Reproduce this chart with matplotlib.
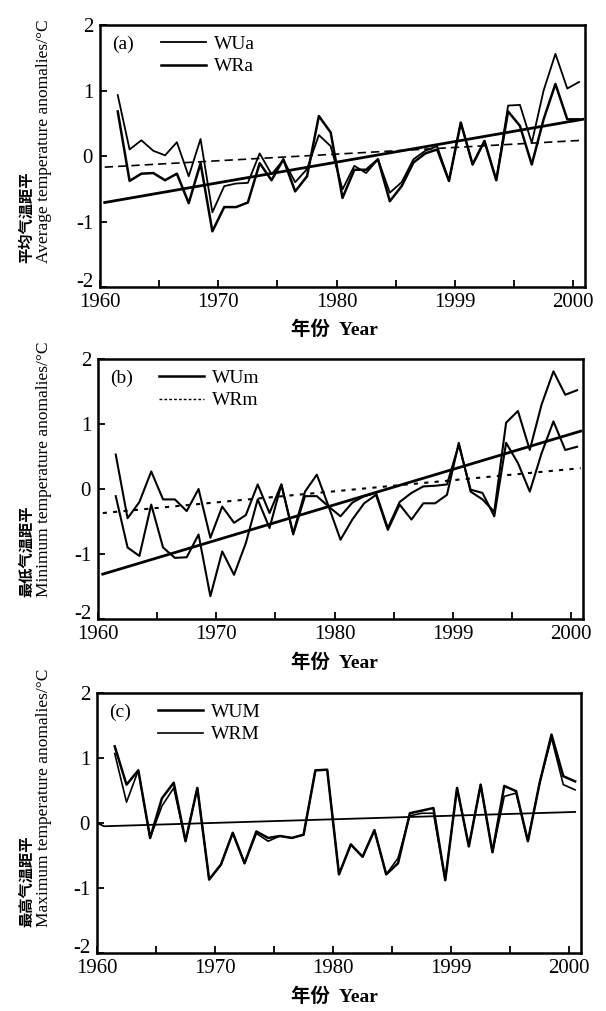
import numpy as np
import matplotlib
matplotlib.use('Agg')
import matplotlib.pyplot as plt
from matplotlib.lines import Line2D

plt.rcParams['font.family'] = ['Liberation Serif', 'Noto Sans CJK SC']
plt.rcParams['axes.unicode_minus'] = False

# ---------------- data ----------------
years = np.arange(1961, 2001)          # 40 annual values, plotted at mid-year
x_pos = years + 0.5

wua = [0.93, 0.10, 0.24, 0.08, 0.01, 0.21, -0.31, 0.26, -0.86, -0.46,
       -0.42, -0.41, 0.04, -0.28, -0.06, -0.40, -0.20, 0.32, 0.15, -0.51,
       -0.15, -0.26, -0.05, -0.56, -0.40, -0.05, 0.08, 0.15, -0.38, 0.51,
       -0.13, 0.23, -0.37, 0.77, 0.78, 0.20, 1.00, 1.56, 1.03, 1.13]
wra = [0.68, -0.38, -0.27, -0.26, -0.37, -0.27, -0.72, -0.11, -1.15, -0.78,
       -0.78, -0.71, -0.11, -0.37, -0.05, -0.54, -0.31, 0.61, 0.36, -0.64,
       -0.21, -0.21, -0.05, -0.69, -0.46, -0.10, 0.04, 0.10, -0.38, 0.51,
       -0.13, 0.23, -0.37, 0.68, 0.46, -0.13, 0.56, 1.10, 0.56, 0.56]

wum = [-0.11, -0.90, -1.03, -0.24, -0.90, -1.06, -1.05, -0.70, -1.65, -0.96,
       -1.32, -0.83, -0.16, -0.60, 0.07, -0.70, -0.11, -0.11, -0.27, -0.78,
       -0.47, -0.22, -0.09, -0.63, -0.24, -0.47, -0.22, -0.22, -0.09, 0.71,
       -0.04, -0.16, -0.35, 1.02, 1.20, 0.60, 1.30, 1.81, 1.45, 1.52]
wrm = [0.53, -0.45, -0.20, 0.27, -0.16, -0.16, -0.34, 0.00, -0.75, -0.27,
       -0.52, -0.40, 0.07, -0.37, 0.07, -0.68, -0.04, 0.22, -0.27, -0.42,
       -0.21, -0.11, -0.06, -0.60, -0.20, -0.06, 0.04, 0.05, 0.07, 0.68,
       -0.01, -0.06, -0.42, 0.71, 0.40, -0.04, 0.55, 1.04, 0.60, 0.65]

wuM = [1.18, 0.59, 0.81, -0.23, 0.38, 0.62, -0.28, 0.54, -0.87, -0.64,
       -0.15, -0.62, -0.13, -0.23, -0.20, -0.23, -0.18, 0.81, 0.82, -0.79,
       -0.33, -0.52, -0.11, -0.79, -0.62, 0.15, 0.19, 0.23, -0.88, 0.54,
       -0.36, 0.59, -0.45, 0.57, 0.49, -0.28, 0.62, 1.36, 0.72, 0.64]
wrM = [1.07, 0.32, 0.81, -0.23, 0.26, 0.54, -0.28, 0.54, -0.87, -0.64,
       -0.15, -0.62, -0.16, -0.28, -0.20, -0.23, -0.18, 0.81, 0.82, -0.79,
       -0.33, -0.52, -0.11, -0.79, -0.54, 0.11, 0.15, 0.15, -0.88, 0.54,
       -0.36, 0.59, -0.45, 0.41, 0.46, -0.28, 0.62, 1.31, 0.59, 0.51]

# linear trends (end points)
trend_x = [1960.4, 2000.8]
trend_a_u = [-0.71, 0.56]
trend_a_r = [-0.17, 0.24]
trend_b_u = [-1.31, 0.89]
trend_b_r = [-0.37, 0.32]
trend_c_x = [1960.0, 1960.6, 2000.5]
trend_c = [0.0, -0.05, 0.17]

xticks = [1960, 1970, 1980, 1990, 2000]
xtick_labels = ['1960', '1970', '1980', '1999', '2000']
yticks = [-2, -1, 0, 1, 2]
ytick_labels = ['-2', '-1', '0', '1', '2']

# ---------------- figure ----------------
W, H = 606, 1011
fig = plt.figure(figsize=(W / 100, H / 100), dpi=100)

def axes_px(l, t, r, b):
    return fig.add_axes([l / W, 1 - b / H, (r - l) / W, (b - t) / H])

ax_a = axes_px(100, 25, 585, 287)
ax_b = axes_px(98, 359, 583, 619)
ax_c = axes_px(97, 693, 581, 953)

def style(ax):
    ax.set_xlim(1960, 2001)
    ax.set_ylim(-2, 2)
    ax.set_xticks(xticks)
    ax.set_xticklabels(xtick_labels)
    ax.set_xticks(np.arange(1965, 2000, 10), minor=True)
    ax.set_yticks(yticks)
    ax.set_yticklabels(ytick_labels)
    ax.tick_params(axis='both', which='both', direction='in', length=5,
                   width=1.3, labelsize=15, top=False, right=False)
    ax.tick_params(axis='x', pad=4.5)
    ax.tick_params(axis='y', pad=5)
    for s in ax.spines.values():
        s.set_linewidth(1.8)
    # bottom y label sits just above the x axis, as in the reference
    ax.get_yticklabels()[0].set_verticalalignment('baseline')

# panel a
ax_a.plot(x_pos, wua, color='black', lw=1.3)
ax_a.plot(x_pos, wra, color='black', lw=1.8)
ax_a.plot(trend_x, trend_a_u, color='black', lw=2.0)
ax_a.plot(trend_x, trend_a_r, color='black', lw=1.2, ls=(0, (5, 3)))
h_a = [Line2D([], [], color='black', lw=1.3), Line2D([], [], color='black', lw=1.8)]
ax_a.legend(h_a, ['WUa', 'WRa'], loc='upper left', bbox_to_anchor=(0.11, 0.99),
            frameon=False, fontsize=14, handlelength=2.3, labelspacing=0.25,
            handletextpad=0.4, borderaxespad=0)

# panel b
ax_b.plot(x_pos, wum, color='black', lw=1.5)
ax_b.plot(x_pos, wrm, color='black', lw=1.5)
ax_b.plot(trend_x, trend_b_u, color='black', lw=2.0)
ax_b.plot(trend_x, trend_b_r, color='black', lw=1.5, ls=(0, (2, 3)))
h_b = [Line2D([], [], color='black', lw=1.8), Line2D([], [], color='black', lw=1.0, ls=(0, (2, 1.5)))]
ax_b.legend(h_b, ['WUm', 'WRm'], loc='upper left', bbox_to_anchor=(0.11, 0.99),
            frameon=False, fontsize=14, handlelength=2.3, labelspacing=0.25,
            handletextpad=0.4, borderaxespad=0)

# panel c
ax_c.plot(x_pos, wuM, color='black', lw=1.8)
ax_c.plot(x_pos, wrM, color='black', lw=1.2)
ax_c.plot(trend_c_x, trend_c, color='black', lw=1.3)
h_c = [Line2D([], [], color='black', lw=1.8), Line2D([], [], color='black', lw=1.2)]
ax_c.legend(h_c, ['WUM', 'WRM'], loc='upper left', bbox_to_anchor=(0.11, 0.99),
            frameon=False, fontsize=14, handlelength=2.3, labelspacing=0.25,
            handletextpad=0.4, borderaxespad=0)

for ax, tag in [(ax_a, '(a)'), (ax_b, '(b)'), (ax_c, '(c)')]:
    style(ax)
    ax.text(0.025, 0.925, tag, transform=ax.transAxes, fontsize=14,
            ha='left', va='center')

# axis labels
cn_labels = ['平均气温距平', '最低气温距平', '最高气温距平']
en_labels = ['Average temperature anomalies/°C',
             'Minimum temperature anomalies/°C',
             'Maximum temperature anomalies/°C']
label_bottoms = [263, 597, 927]
xlabel_y = [330, 663, 997]
for cn, en, yb, yx in zip(cn_labels, en_labels, label_bottoms, xlabel_y):
    fig.text(26 / W, 1 - yb / H, cn, rotation=90, ha='center', va='bottom',
             fontsize=11, fontweight='bold', family=['Noto Sans CJK SC'])
    fig.text(44 / W, 1 - yb / H, en, rotation=90, ha='center', va='bottom',
             fontsize=12.5)
    fig.text(334 / W, 1 - yx / H, '年份  Year', ha='center', va='center',
             fontsize=14, fontweight='bold')

fig.savefig('out.png', dpi=100)
